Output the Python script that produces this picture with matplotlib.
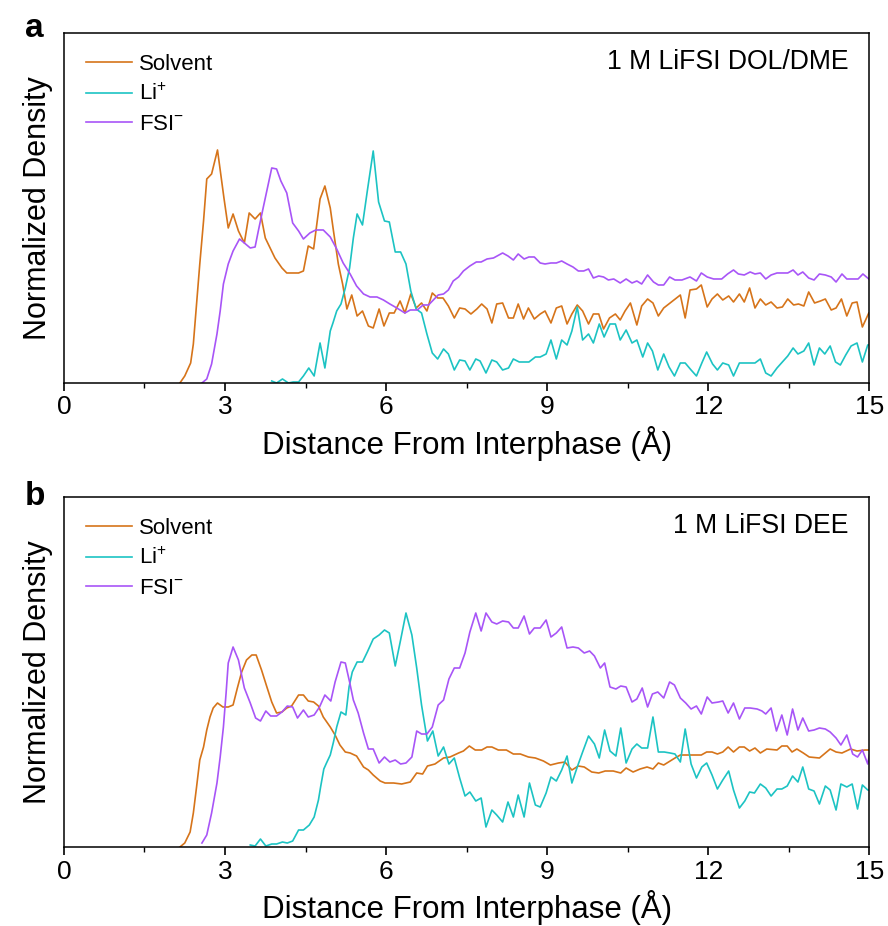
import matplotlib
matplotlib.use("Agg")
import matplotlib.pyplot as plt
from matplotlib.ticker import MultipleLocator

plt.rcParams['font.family'] = ['Liberation Sans', 'DejaVu Sans']
plt.rcParams['mathtext.fontset'] = 'custom'
plt.rcParams['mathtext.rm'] = 'Liberation Sans'
plt.rcParams['mathtext.default'] = 'regular'

# ---- panel a : 1 M LiFSI DOL/DME ------------------------------------------
a_solv_x = [2.16, 2.25, 2.36, 2.41, 2.47, 2.53, 2.60, 2.66, 2.75, 2.86,
            2.98, 3.06, 3.15, 3.25, 3.36, 3.45, 3.56, 3.66, 3.75, 3.84,
            3.93, 4.06, 4.15, 4.24, 4.37, 4.46, 4.55, 4.65, 4.77, 4.86,
            4.96, 5.02, 5.11, 5.19, 5.27, 5.36, 5.46, 5.56, 5.67, 5.76,
            5.87, 5.96, 6.06, 6.15, 6.26,
            6.35, 6.46, 6.56, 6.66, 6.76, 6.86, 6.96, 7.06, 7.16, 7.27,
            7.37, 7.47, 7.58, 7.69, 7.78, 7.88, 7.97, 8.06, 8.17, 8.28,
            8.37, 8.46, 8.56, 8.65, 8.76, 8.87, 8.96, 9.07, 9.17, 9.27,
            9.37, 9.46, 9.56, 9.66, 9.77, 9.86, 9.96, 10.05, 10.16, 10.27,
            10.36, 10.45,
            10.55, 10.67, 10.76, 10.87, 10.97, 11.07, 11.17, 11.29, 11.48, 11.57,
            11.66, 11.78, 11.87, 11.98, 12.07, 12.17, 12.27, 12.38, 12.47, 12.58,
            12.67, 12.77, 12.87, 12.97, 13.07, 13.17, 13.28, 13.38, 13.48, 13.59,
            13.68, 13.78, 13.87, 13.98, 14.09, 14.18, 14.29, 14.38, 14.48, 14.58,
            14.68, 14.77, 14.87, 14.99]
a_solv_y = [0.00, 0.07, 0.20, 0.39, 0.79, 1.19, 1.62, 2.04, 2.09, 2.33,
            1.85, 1.55, 1.69, 1.52, 1.40, 1.70, 1.64, 1.70, 1.45, 1.35,
            1.25, 1.15, 1.10, 1.10, 1.10, 1.12, 1.37, 1.34, 1.84, 1.97,
            1.75, 1.52, 1.19, 0.99, 0.74, 0.88, 0.67, 0.72, 0.57, 0.55,
            0.74, 0.57, 0.70, 0.70, 0.82,
            0.70, 0.89, 0.75, 0.80, 0.72, 0.90, 0.85, 0.85, 0.77, 0.65,
            0.75, 0.74, 0.69, 0.74, 0.79, 0.74, 0.60, 0.79, 0.80, 0.65,
            0.65, 0.79, 0.64, 0.75, 0.64, 0.69, 0.72, 0.60, 0.75, 0.77,
            0.59, 0.69, 0.78, 0.72, 0.59, 0.69, 0.69, 0.54, 0.65, 0.69,
            0.63, 0.72,
            0.80, 0.58, 0.77, 0.84, 0.80, 0.67, 0.75, 0.80, 0.88, 0.65,
            0.93, 0.94, 0.98, 0.76, 0.84, 0.89, 0.83, 0.87, 0.81, 0.89,
            0.81, 0.95, 0.75, 0.84, 0.78, 0.81, 0.75, 0.76, 0.84, 0.78,
            0.79, 0.77, 0.91, 0.80, 0.82, 0.84, 0.73, 0.75, 0.84, 0.67,
            0.80, 0.81, 0.56, 0.70]

a_li_x = [3.87, 3.96, 4.07, 4.18, 4.27, 4.37, 4.46, 4.56, 4.66, 4.77,
          4.86, 4.96, 5.01, 5.08, 5.16, 5.24, 5.32, 5.39, 5.46, 5.56,
          5.65, 5.76, 5.86, 5.97, 6.06, 6.17, 6.27, 6.37, 6.46, 6.56,
          6.66, 6.76, 6.86, 6.96, 7.07, 7.16, 7.27, 7.37, 7.47, 7.56,
          7.67, 7.75, 7.86, 7.97, 8.06, 8.17, 8.28, 8.37, 8.48, 8.57,
          8.66, 8.78, 8.87, 8.98, 9.07, 9.17, 9.27, 9.37, 9.46, 9.56,
          9.66, 9.77, 9.86, 9.97, 10.06, 10.17, 10.27, 10.36, 10.47, 10.58,
          10.67, 10.78, 10.87, 10.96, 11.06, 11.17, 11.27, 11.37, 11.48, 11.57,
          11.68, 11.78, 11.88, 11.97, 12.08, 12.17, 12.27, 12.38, 12.47, 12.58,
          12.69, 12.87, 12.97, 13.07, 13.17, 13.28, 13.38, 13.48, 13.58, 13.67,
          13.78, 13.87, 13.97, 14.07, 14.17, 14.27, 14.37, 14.46, 14.56, 14.66,
          14.77, 14.87, 14.97, 15.0]
a_li_y = [0.02, 0.00, 0.04, 0.00, 0.01, 0.01, 0.07, 0.15, 0.07, 0.40,
          0.15, 0.52, 0.60, 0.72, 0.79, 0.95, 1.15, 1.45, 1.69, 1.58,
          1.92, 2.32, 1.81, 1.62, 1.61, 1.31, 1.31, 1.19, 0.92, 0.74,
          0.70, 0.49, 0.30, 0.24, 0.34, 0.29, 0.13, 0.23, 0.22, 0.13,
          0.24, 0.22, 0.10, 0.23, 0.21, 0.13, 0.15, 0.24, 0.21, 0.21,
          0.21, 0.26, 0.26, 0.29, 0.43, 0.24, 0.43, 0.38, 0.52, 0.76,
          0.43, 0.49, 0.40, 0.59, 0.46, 0.59, 0.59, 0.43, 0.53, 0.40,
          0.43, 0.26, 0.40, 0.32, 0.13, 0.29, 0.16, 0.07, 0.20, 0.20,
          0.13, 0.07, 0.20, 0.31, 0.19, 0.13, 0.20, 0.18, 0.07, 0.20,
          0.20, 0.20, 0.24, 0.10, 0.07, 0.15, 0.21, 0.27, 0.35, 0.29,
          0.32, 0.40, 0.18, 0.35, 0.29, 0.37, 0.21, 0.18, 0.28, 0.37,
          0.40, 0.21, 0.38, 0.38]

a_fsi_x = [2.57, 2.66, 2.75, 2.85, 2.91, 2.97, 3.06, 3.15, 3.27, 3.36,
           3.47, 3.56, 3.62, 3.71, 3.79, 3.87, 3.96, 4.04, 4.15, 4.26,
           4.37, 4.46, 4.58, 4.69, 4.83, 4.96, 5.08, 5.20, 5.33, 5.45,
           5.58, 5.70, 5.83, 5.95, 6.07, 6.20, 6.35, 6.45, 6.58, 6.69,
           6.79, 6.88, 6.97, 7.07, 7.16, 7.25, 7.35, 7.44, 7.56, 7.68,
           7.77, 7.88, 8.00, 8.17, 8.27, 8.37, 8.46, 8.57, 8.66, 8.76,
           8.87, 8.96, 9.07, 9.17, 9.27, 9.37, 9.48, 9.58, 9.68, 9.77,
           9.86, 9.96, 10.05, 10.14, 10.24, 10.36, 10.47, 10.58, 10.67, 10.76,
           10.87, 10.98, 11.07, 11.17, 11.28, 11.38, 11.51, 11.66, 11.78, 11.87,
           11.98, 12.10, 12.25, 12.36, 12.47, 12.56, 12.67, 12.78, 12.87, 12.97,
           13.07, 13.17, 13.28, 13.38, 13.48, 13.58, 13.67, 13.76, 13.87, 13.97,
           14.07, 14.18, 14.29, 14.38, 14.49, 14.58, 14.69, 14.79, 14.88, 14.99]
a_fsi_y = [0.00, 0.04, 0.19, 0.49, 0.72, 0.99, 1.19, 1.32, 1.44, 1.40,
           1.35, 1.36, 1.52, 1.75, 1.95, 2.15, 2.14, 2.02, 1.90, 1.60,
           1.52, 1.44, 1.50, 1.53, 1.53, 1.46, 1.34, 1.20, 1.09, 0.97,
           0.89, 0.86, 0.86, 0.83, 0.79, 0.75, 0.70, 0.73, 0.73, 0.78,
           0.78, 0.83, 0.88, 0.89, 0.93, 1.02, 1.06, 1.12, 1.17, 1.21,
           1.21, 1.24, 1.25, 1.30, 1.27, 1.23, 1.29, 1.24, 1.26, 1.26,
           1.20, 1.19, 1.20, 1.20, 1.22, 1.19, 1.16, 1.12, 1.12, 1.14,
           1.05, 1.07, 1.06, 1.03, 1.04, 1.00, 1.04, 1.00, 1.02, 0.99,
           1.08, 1.01, 0.98, 0.98, 1.06, 1.03, 1.03, 1.06, 1.02, 1.10,
           1.06, 1.04, 1.04, 1.09, 1.13, 1.09, 1.08, 1.11, 1.09, 1.10,
           1.04, 1.08, 1.10, 1.10, 1.10, 1.13, 1.08, 1.11, 1.05, 1.03,
           1.09, 1.08, 1.06, 1.01, 1.09, 1.04, 1.04, 1.04, 1.09, 1.04]

# ---- panel b : 1 M LiFSI DEE -----------------------------------------------
b_solv_x = [2.16, 2.25, 2.35, 2.41, 2.47, 2.53, 2.60, 2.66, 2.72, 2.78,
            2.86, 2.96, 3.06, 3.15, 3.23, 3.31, 3.40, 3.50, 3.58, 3.68,
            3.78, 3.87, 3.96, 4.06, 4.15, 4.24, 4.37, 4.46, 4.55, 4.65,
            4.74, 4.83, 4.96, 5.05, 5.14, 5.24, 5.33, 5.45, 5.58, 5.67,
            5.76, 5.89, 5.98, 6.07, 6.14, 6.29, 6.45, 6.57, 6.68, 6.77,
            6.91, 7.07, 7.19, 7.35, 7.44, 7.55, 7.66, 7.78, 7.88, 7.97,
            8.09, 8.24, 8.37, 8.50, 8.65, 8.78, 8.93, 9.06, 9.21, 9.33,
            9.46, 9.58, 9.69, 9.83, 9.96, 10.08, 10.23, 10.37, 10.47, 10.60,
            10.73, 10.86, 10.97, 11.07, 11.17, 11.29, 11.38, 11.48, 11.60, 11.73,
            11.87, 11.97, 12.07, 12.17, 12.27, 12.37, 12.47, 12.58, 12.67, 12.77,
            12.87, 12.97, 13.09, 13.28, 13.37, 13.47, 13.56, 13.65, 13.77, 13.88,
            14.07, 14.27, 14.38, 14.49, 14.65, 14.77, 14.92, 15.0]
b_solv_y = [0.00, 0.04, 0.15, 0.34, 0.60, 0.87, 1.00, 1.17, 1.30, 1.39,
            1.44, 1.40, 1.40, 1.42, 1.59, 1.75, 1.87, 1.92, 1.92, 1.77,
            1.60, 1.45, 1.34, 1.35, 1.39, 1.41, 1.52, 1.52, 1.46, 1.45,
            1.41, 1.30, 1.20, 1.12, 1.02, 0.95, 0.94, 0.91, 0.80, 0.77,
            0.72, 0.66, 0.64, 0.64, 0.64, 0.63, 0.65, 0.74, 0.73, 0.81,
            0.83, 0.89, 0.90, 0.94, 0.96, 1.01, 0.97, 0.97, 1.00, 1.00,
            0.97, 0.97, 0.93, 0.93, 0.90, 0.89, 0.86, 0.82, 0.84, 0.85,
            0.77, 0.81, 0.80, 0.75, 0.74, 0.76, 0.76, 0.74, 0.79, 0.75,
            0.78, 0.80, 0.78, 0.84, 0.82, 0.86, 0.89, 0.92, 0.92, 0.92,
            0.92, 0.95, 0.95, 0.93, 0.95, 1.00, 0.95, 1.00, 1.00, 0.96,
            0.99, 0.94, 0.98, 0.97, 1.01, 1.01, 0.95, 0.98, 0.94, 0.90,
            0.89, 0.98, 0.95, 0.94, 0.98, 0.96, 0.97, 0.97]

b_li_x = [3.47, 3.56, 3.66, 3.76, 3.87, 3.96, 4.07, 4.16, 4.26, 4.37,
          4.46, 4.57, 4.66, 4.74, 4.78, 4.84, 4.89, 4.96, 5.02, 5.08,
          5.16, 5.25, 5.31, 5.37, 5.46, 5.56, 5.65, 5.76, 5.87, 5.97,
          6.06, 6.17, 6.27, 6.37, 6.48, 6.57, 6.66, 6.77, 6.87, 6.97,
          7.07, 7.17, 7.27, 7.37, 7.47, 7.56, 7.67, 7.77, 7.86, 7.97,
          8.06, 8.17, 8.27, 8.37, 8.46, 8.57, 8.67, 8.78, 8.87, 8.98,
          9.07, 9.17, 9.27, 9.37, 9.46, 9.56, 9.66, 9.77, 9.88, 9.97,
          10.07, 10.17, 10.28, 10.37, 10.47, 10.58, 10.67, 10.76, 10.87, 10.97,
          11.07, 11.18, 11.29, 11.38, 11.48, 11.57, 11.68, 11.78, 11.88, 11.97,
          12.07, 12.17, 12.27, 12.38, 12.47, 12.58, 12.68, 12.77, 12.86, 12.97,
          13.07, 13.17, 13.28, 13.37, 13.47, 13.57, 13.67, 13.76, 13.87, 13.97,
          14.07, 14.18, 14.27, 14.38, 14.47, 14.58, 14.68, 14.78, 14.87, 14.97,
          15.0]
b_li_y = [0.02, 0.01, 0.08, 0.01, 0.03, 0.03, 0.05, 0.04, 0.06, 0.17,
          0.17, 0.22, 0.30, 0.47, 0.60, 0.78, 0.84, 0.92, 1.05, 1.20,
          1.35, 1.32, 1.60, 1.75, 1.85, 1.85, 1.95, 2.08, 2.12, 2.17,
          2.14, 1.81, 2.07, 2.34, 2.12, 1.79, 1.42, 1.06, 1.16, 0.91,
          1.00, 0.83, 0.89, 0.69, 0.51, 0.55, 0.46, 0.49, 0.20, 0.37,
          0.32, 0.25, 0.45, 0.30, 0.52, 0.30, 0.64, 0.42, 0.40, 0.54,
          0.70, 0.66, 0.77, 0.91, 0.64, 0.80, 0.95, 1.11, 1.03, 0.89,
          1.17, 0.96, 0.91, 1.19, 0.84, 0.98, 1.03, 0.99, 0.99, 1.30,
          0.95, 0.95, 0.94, 0.93, 0.85, 1.18, 0.83, 0.69, 0.80, 0.84,
          0.72, 0.58, 0.67, 0.76, 0.57, 0.39, 0.46, 0.55, 0.54, 0.63,
          0.59, 0.51, 0.58, 0.58, 0.61, 0.71, 0.65, 0.80, 0.58, 0.56,
          0.43, 0.61, 0.57, 0.37, 0.63, 0.60, 0.63, 0.38, 0.62, 0.57,
          0.57]

b_fsi_x = [2.57, 2.66, 2.75, 2.85, 2.91, 2.97, 3.02, 3.06, 3.15, 3.25,
           3.36, 3.47, 3.57, 3.66, 3.76, 3.85, 3.96, 4.06, 4.16, 4.26,
           4.35, 4.46, 4.55, 4.66, 4.76, 4.86, 4.97, 5.05, 5.16, 5.24,
           5.32, 5.39, 5.48, 5.58, 5.67, 5.76, 5.87, 5.97, 6.07, 6.17,
           6.27, 6.37, 6.48, 6.57, 6.66, 6.76, 6.86, 6.97, 7.07, 7.17,
           7.27, 7.37, 7.47, 7.56, 7.67, 7.77, 7.86, 7.97, 8.06, 8.17,
           8.28, 8.37, 8.46, 8.57, 8.67, 8.76, 8.87, 8.98, 9.07, 9.17,
           9.27, 9.37, 9.48, 9.58, 9.69, 9.79, 9.88, 9.99, 10.07, 10.17,
           10.28, 10.37, 10.47, 10.58, 10.67, 10.77, 10.87, 10.96, 11.06, 11.17,
           11.28, 11.37, 11.48, 11.58, 11.68, 11.78, 11.87, 11.98, 12.07, 12.19,
           12.27, 12.37, 12.47, 12.58, 12.68, 12.78, 12.91, 13.00, 13.07, 13.17,
           13.27, 13.37, 13.47, 13.57, 13.67, 13.76, 13.87, 13.97, 14.07, 14.18,
           14.27, 14.38, 14.47, 14.58, 14.69, 14.78, 14.87, 14.97, 15.0]
b_fsi_y = [0.04, 0.12, 0.34, 0.64, 0.90, 1.20, 1.54, 1.84, 2.00, 1.87,
           1.59, 1.44, 1.29, 1.26, 1.36, 1.31, 1.31, 1.35, 1.41, 1.40,
           1.29, 1.37, 1.30, 1.32, 1.40, 1.52, 1.46, 1.65, 1.85, 1.84,
           1.65, 1.47, 1.34, 1.14, 0.98, 0.98, 0.84, 0.90, 0.85, 0.87,
           0.83, 0.84, 0.90, 1.16, 1.13, 1.13, 1.20, 1.42, 1.47, 1.68,
           1.79, 1.79, 1.94, 2.15, 2.34, 2.16, 2.34, 2.25, 2.23, 2.26,
           2.25, 2.19, 2.19, 2.31, 2.13, 2.19, 2.19, 2.27, 2.10, 2.14,
           2.20, 1.99, 2.00, 1.99, 1.94, 1.96, 1.91, 1.79, 1.84, 1.60,
           1.58, 1.61, 1.60, 1.45, 1.48, 1.59, 1.40, 1.53, 1.55, 1.49,
           1.65, 1.62, 1.49, 1.44, 1.38, 1.41, 1.33, 1.50, 1.44, 1.45,
           1.46, 1.34, 1.44, 1.28, 1.39, 1.39, 1.38, 1.36, 1.33, 1.39,
           1.16, 1.32, 1.12, 1.38, 1.17, 1.29, 1.16, 1.17, 1.19, 1.18,
           1.15, 1.09, 1.02, 1.12, 0.93, 0.90, 0.97, 0.83, 0.92]

labels = ['Solvent', 'Li$^{+}$', 'FSI$^{-}$']
colors = ['#D6741A', '#1CC3C3', '#A855F7']

fig = plt.figure(figsize=(8.88, 9.26), dpi=100)
axA = fig.add_axes([0.072, 0.5864, 0.907, 0.378])
axB = fig.add_axes([0.072, 0.0853, 0.907, 0.378])


def draw(ax, series, note):
    for (x, y), c, lab in zip(series, colors, labels):
        ax.plot(x, y, color=c, lw=1.2, label=lab)
    ax.set_xlim(0, 15)
    ax.set_ylim(0, 3.5)
    ax.xaxis.set_major_locator(MultipleLocator(3))
    ax.xaxis.set_minor_locator(MultipleLocator(1.5))
    ax.set_yticks([])
    ax.tick_params(axis='x', which='major', direction='out', length=6,
                   width=1.2, labelsize=19, pad=3)
    ax.tick_params(axis='x', which='minor', direction='out', length=3.5, width=1.0)
    for s in ax.spines.values():
        s.set_linewidth(1.1)
    ax.set_xlabel('Distance From Interphase (Å)', fontsize=22.5, labelpad=5)
    ax.set_ylabel('Normalized Density', fontsize=22, labelpad=8)
    ax.text(0.974, 0.917, note, transform=ax.transAxes, ha='right',
            va='center', fontsize=19.2)
    ax.legend(loc='upper left', bbox_to_anchor=(0.027, 0.94), frameon=False,
              fontsize=16, handlelength=2.1, handletextpad=0.3,
              labelspacing=0.4, borderpad=0, borderaxespad=0)


draw(axA, [(a_solv_x, a_solv_y), (a_li_x, a_li_y), (a_fsi_x, a_fsi_y)],
     '1 M LiFSI DOL/DME')
draw(axB, [(b_solv_x, b_solv_y), (b_li_x, b_li_y), (b_fsi_x, b_fsi_y)],
     '1 M LiFSI DEE')

fig.text(0.028, 0.9604, 'a', fontsize=24, fontweight='bold', va='baseline')
fig.text(0.028, 0.4546, 'b', fontsize=24, fontweight='bold', va='baseline')

fig.savefig('out.png', dpi=100)
